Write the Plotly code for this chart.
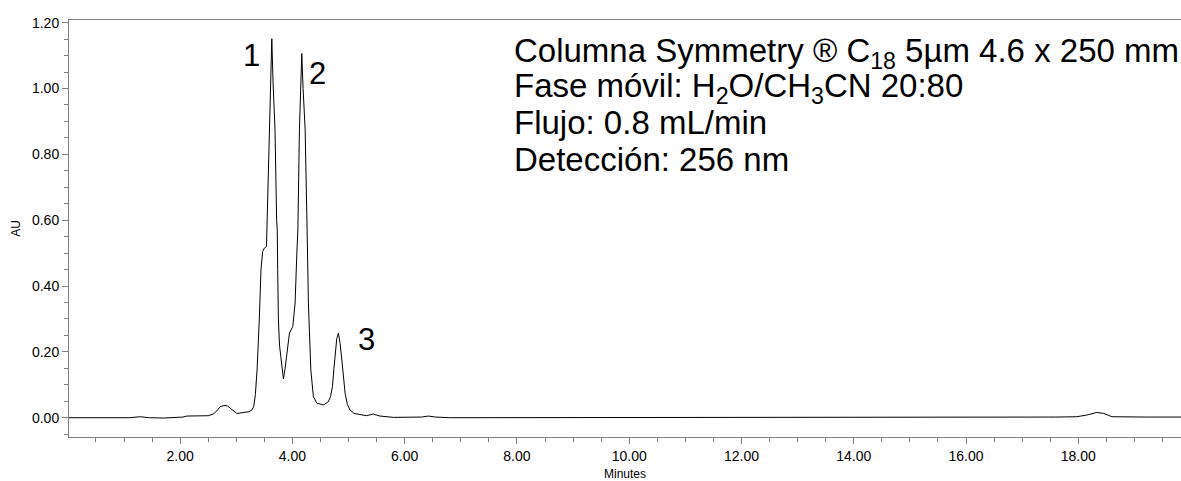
import plotly.graph_objects as go

# Chromatogram trace (time in minutes, absorbance in AU)
time_min = [
    0.02, 0.60, 1.10, 1.29, 1.45, 1.70, 1.95, 2.05, 2.12, 2.36, 2.50, 2.59, 2.65, 2.71, 2.78, 2.84,
    2.92, 3.01, 3.10, 3.22, 3.27, 3.31, 3.34, 3.37, 3.41, 3.44, 3.47, 3.50, 3.538,
    3.545, 3.56, 3.59, 3.61, 3.633, 3.655, 3.69, 3.719, 3.73, 3.738, 3.75, 3.77, 3.80,
    3.84, 3.87, 3.90, 3.947, 4.007, 4.048, 4.079, 4.097, 4.125, 4.145, 4.167, 4.19,
    4.227, 4.262, 4.285, 4.328, 4.374, 4.435, 4.50, 4.553, 4.60, 4.642, 4.68, 4.713,
    4.74, 4.761, 4.79, 4.82, 4.85, 4.881, 4.91, 4.939, 4.98, 5.028, 5.10, 5.176,
    5.32, 5.44, 5.56, 5.80, 6.10, 6.30, 6.42, 6.55, 6.80, 8.00, 10.00, 12.00, 14.00,
    16.00, 17.00, 17.60, 17.97, 18.15, 18.33, 18.45, 18.60, 18.80, 19.20, 19.83,
]
absorbance_au = [
    0.000, 0.000, 0.000, 0.003, 0.000, -0.001, 0.000, 0.002, 0.005, 0.005, 0.006, 0.011, 0.020, 0.033, 0.037, 0.036,
    0.025, 0.013, 0.015, 0.018, 0.022, 0.033, 0.070, 0.145, 0.297, 0.449, 0.505, 0.515, 0.520,
    0.570, 0.650, 0.875, 1.020, 1.151, 1.020, 0.875, 0.600, 0.570, 0.450, 0.300, 0.220, 0.170,
    0.118, 0.150, 0.196, 0.257, 0.277, 0.348, 0.500, 0.570, 0.875, 1.000, 1.106, 1.000,
    0.875, 0.570, 0.348, 0.145, 0.064, 0.044, 0.040, 0.039, 0.044, 0.049, 0.065, 0.094,
    0.150, 0.196, 0.240, 0.257, 0.225, 0.175, 0.120, 0.074, 0.040, 0.023, 0.013, 0.010,
    0.006, 0.011, 0.005, 0.001, 0.001, 0.002, 0.005, 0.002, 0.000, 0.000, 0.000, 0.000, 0.000,
    0.000, 0.001, 0.002, 0.003, 0.008, 0.016, 0.013, 0.003, 0.002, 0.002, 0.002,
]

x_range = [0.02, 19.83]
y_range = [-0.0586, 1.208]
x_major = 2.0
x_minor = 0.5
y_major = 0.2
y_minor = 0.05

peak_labels = ["1", "2", "3"]
peak_label_time = [3.265, 4.449, 5.313]
peak_label_au = [1.099, 1.046, 0.239]

info_lines = [
    "Columna Symmetry ® C<sub>18</sub> 5µm 4.6 x 250 mm",
    "Fase móvil: H<sub>2</sub>O/CH<sub>3</sub>CN 20:80",
    "Flujo: 0.8 mL/min",
    "Detección: 256 nm",
]
info_time = 7.91
info_au = [1.108, 1.0, 0.898, 0.783]

FONT = "Liberation Sans, Arial, sans-serif"
AXIS_COLOR = "#808080"

fig = go.Figure()
fig.add_trace(go.Scatter(
    x=time_min, y=absorbance_au, mode="lines",
    line=dict(color="black", width=1), hoverinfo="skip", showlegend=False,
))

for lab, t, a in zip(peak_labels, peak_label_time, peak_label_au):
    fig.add_annotation(x=t, y=a, xref="x", yref="y", text=lab, showarrow=False,
                       xanchor="center", yanchor="middle",
                       font=dict(family=FONT, size=31, color="black"))

for line, a in zip(info_lines, info_au):
    fig.add_annotation(x=info_time, y=a, xref="x", yref="y", text=line, showarrow=False,
                       xanchor="left", yanchor="middle",
                       font=dict(family=FONT, size=33, color="black"))

fig.update_layout(
    width=1181, height=481,
    margin=dict(l=69, r=0, t=20, b=44),
    paper_bgcolor="white", plot_bgcolor="white",
    font=dict(family=FONT, color="black"),
    showlegend=False,
)
fig.update_xaxes(
    range=x_range, showgrid=False, zeroline=False,
    showline=True, linecolor=AXIS_COLOR, linewidth=1, mirror=True,
    ticks="outside", ticklen=6, tickcolor=AXIS_COLOR, tick0=0, dtick=x_major,
    tickformat=".2f", tickfont=dict(size=14, color="black"),
    minor=dict(ticks="outside", ticklen=4, tickcolor=AXIS_COLOR, dtick=x_minor, tick0=0, showgrid=False),
    title=dict(text="Minutes", font=dict(size=12, color="black"), standoff=6),
)
fig.update_yaxes(
    range=y_range, showgrid=False, zeroline=False,
    showline=True, linecolor=AXIS_COLOR, linewidth=1,
    ticks="outside", ticklen=6, tickcolor=AXIS_COLOR, tick0=0, dtick=y_major,
    tickformat=".2f", tickfont=dict(size=14, color="black"),
    minor=dict(ticks="outside", ticklen=4, tickcolor=AXIS_COLOR, dtick=y_minor, tick0=0, showgrid=False),
    title=dict(text="AU", font=dict(size=12, color="black"), standoff=8),
)

# remove the default page margin so the figure fills the 1181x481 window exactly
fig.write_html(
    "out.html",
    config={"displayModeBar": False},
    post_script="document.body.style.margin='0';document.body.style.overflow='hidden';",
)
